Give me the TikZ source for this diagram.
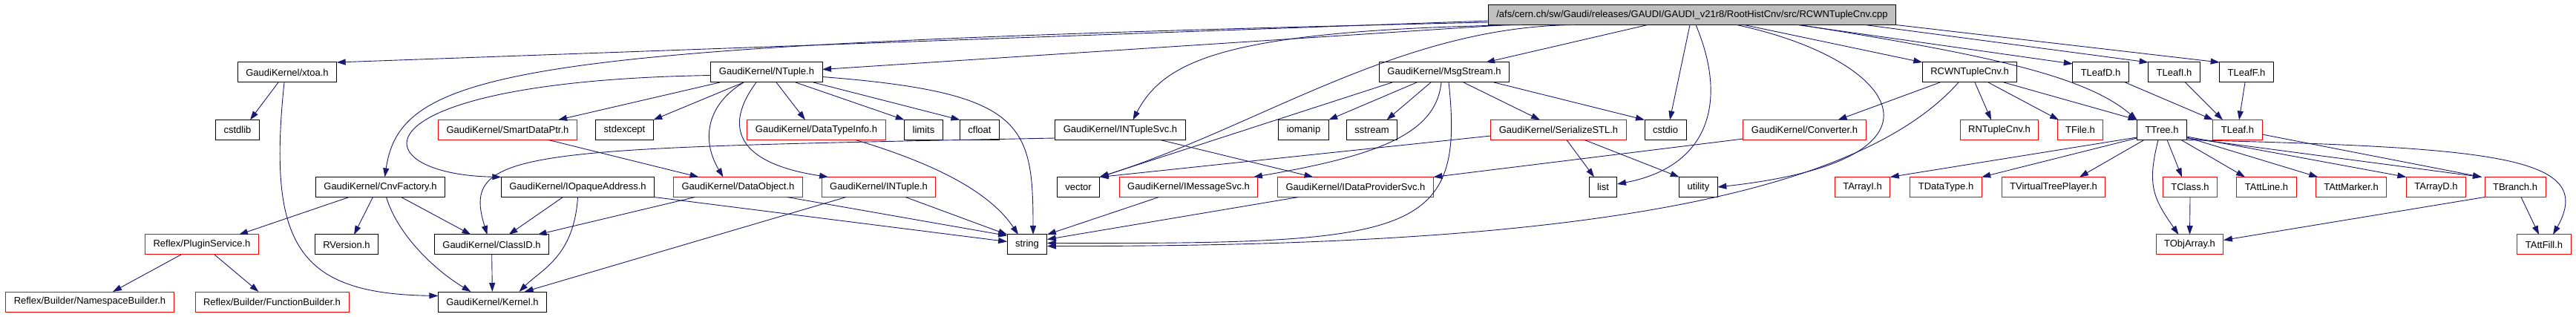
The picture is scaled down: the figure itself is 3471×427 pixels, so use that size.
\documentclass[tikz,border=0pt]{standalone}
\usepackage{fontspec}
\setmainfont{Liberation Sans}
\usetikzlibrary{arrows.meta}
\definecolor{depblue}{HTML}{191970}
\definecolor{rootgray}{HTML}{BFBFBF}
\tikzset{
    hfile/.style={draw=black, line width=1pt, inner xsep=11pt, inner ysep=0pt,
        minimum height=27pt, outer sep=0pt, font=\fontsize{13}{15}\selectfont},
    missing/.style={hfile, draw=red},
    topfile/.style={hfile, fill=rootgray},
    dep/.style={draw=depblue, line width=0.9pt, -{Triangle[length=12pt,width=8pt]}},
}

\begin{document}
\begin{tikzpicture}[x=1pt, y=-1pt]
    \useasboundingbox (0,0) rectangle (3471,427);

    \node[topfile] (root) at (2280,20) {/afs/cern.ch/sw/Gaudi/releases/GAUDI/GAUDI\_v21r8/RootHistCnv/src/RCWNTupleCnv.cpp};

    \node[hfile] (xtoa) at (387,97.5) {GaudiKernel/xtoa.h};
    \node[hfile] (ntuple) at (1033,97.5) {GaudiKernel/NTuple.h};
    \node[hfile] (msgstream) at (1946,97.5) {GaudiKernel/MsgStream.h};
    \node[hfile] (rcwn) at (2654,97.5) {RCWNTupleCnv.h};
    \node[hfile] (tleafd) at (2830.5,97.5) {TLeafD.h};
    \node[hfile] (tleafi) at (2929.5,97.5) {TLeafI.h};
    \node[hfile] (tleaff) at (3027,97.5) {TLeafF.h};

    \node[hfile] (cstdlib) at (320,175) {cstdlib};
    \node[missing] (smartptr) at (684,175) {GaudiKernel/SmartDataPtr.h};
    \node[hfile] (stdexcept) at (841.5,175) {stdexcept};
    \node[missing] (dtinfo) at (1100,175) {GaudiKernel/DataTypeInfo.h};
    \node[hfile] (limits) at (1244.5,175) {limits};
    \node[hfile] (cfloat) at (1320,175) {cfloat};
    \node[hfile] (intupsvc) at (1509.5,175) {GaudiKernel/INTupleSvc.h};
    \node[hfile] (iomanip) at (1756.5,175) {iomanip};
    \node[hfile] (sstream) at (1848.5,175) {sstream};
    \node[missing] (serial) at (2100,175) {GaudiKernel/SerializeSTL.h};
    \node[hfile] (cstdio) at (2244,175) {cstdio};
    \node[missing] (converter) at (2431.5,175) {GaudiKernel/Converter.h};
    \node[missing] (rntuple) at (2694,175) {RNTupleCnv.h};
    \node[missing] (tfile) at (2803,175) {TFile.h};
    \node[hfile] (ttree) at (2913,175) {TTree.h};
    \node[missing] (tleaf) at (3015,175) {TLeaf.h};

    \node[hfile] (cnvfactory) at (512.5,252) {GaudiKernel/CnvFactory.h};
    \node[hfile] (iopaque) at (778.5,252) {GaudiKernel/IOpaqueAddress.h};
    \node[missing] (dataobj) at (994.5,252) {GaudiKernel/DataObject.h};
    \node[missing] (intuple) at (1184,252) {GaudiKernel/INTuple.h};
    \node[hfile] (vector) at (1453,252) {vector};
    \node[missing] (imsgsvc) at (1601.5,252) {GaudiKernel/IMessageSvc.h};
    \node[missing] (idpsvc) at (1826.5,252) {GaudiKernel/IDataProviderSvc.h};
    \node[hfile] (list) at (2160,252) {list};
    \node[hfile] (utility) at (2288.5,252) {utility};
    \node[missing] (tarrayi) at (2509.5,252) {TArrayI.h};
    \node[missing] (tdatatype) at (2622,252) {TDataType.h};
    \node[missing] (tvtp) at (2767,252) {TVirtualTreePlayer.h};
    \node[missing] (tclass) at (2951,252) {TClass.h};
    \node[missing] (tattline) at (3054,252) {TAttLine.h};
    \node[missing] (tattmarker) at (3168,252) {TAttMarker.h};
    \node[missing] (tarrayd) at (3282.5,252) {TArrayD.h};
    \node[missing] (tbranch) at (3389,252) {TBranch.h};

    \node[missing] (plugin) at (272,329.5) {Reflex/PluginService.h};
    \node[hfile] (rversion) at (467,329.5) {RVersion.h};
    \node[hfile] (classid) at (662.5,329.5) {GaudiKernel/ClassID.h};
    \node[hfile] (string) at (1384,329.5) {string};
    \node[missing] (tobjarray) at (2950.5,329.5) {TObjArray.h};
    \node[missing] (tattfill) at (3428,329.5) {TAttFill.h};

    \node[missing] (nsbuilder) at (121,406.5) {Reflex/Builder/NamespaceBuilder.h};
    \node[missing] (fnbuilder) at (366.5,406.5) {Reflex/Builder/FunctionBuilder.h};
    \node[hfile] (kernel) at (663.5,406.5) {GaudiKernel/Kernel.h};

    % includes of the .cpp file
    \draw[dep] ([yshift=-8pt]root.west) -- (xtoa.north east);
    \draw[dep] ([yshift=-10pt]root.west) .. controls +(-1299,30) and +(22,-149) .. ([xshift=6pt]cnvfactory.north);
    \draw[dep] ([xshift=25pt]root.south west) -- ([yshift=4pt]ntuple.east);
    \draw[dep] ([xshift=45pt]root.south west) .. controls +(-394,7) and +(43,-82) .. ([xshift=17pt]intupsvc.north);
    \draw[dep] ([xshift=117pt]root.south west) .. controls +(-236,2) and +(217,-69) .. (vector.north east);
    \draw[dep] ([xshift=-60pt]root.south) -- ([xshift=56pt]msgstream.north);
    \draw[dep] ([xshift=-3pt]root.south) -- ([xshift=6pt]cstdio.north);
    \draw[dep] ([xshift=5pt]root.south) .. controls +(45,107) and +(121,-23) .. ([yshift=4pt]list.east);
    \draw[dep] ([xshift=60pt]root.south) .. controls +(220,47) and +(336,-37) .. (utility.east);
    \draw[dep] ([xshift=70pt]root.south) -- (rcwn.north west);
    \draw[dep] ([xshift=142pt]root.south) -- ([yshift=-2pt]tleafd.north west);
    \draw[dep] ([xshift=145pt]root.south) .. controls +(250,40) and +(-70,-60) .. (ttree.north west);
    \draw[dep] ([xshift=233pt]root.south) -- (tleafi.north west);
    \draw[dep] (root.south east) -- (tleaff.north west);

    \draw[dep] ([yshift=-4pt]ntuple.west) .. controls +(-487,8) and +(-194,-4) .. (iopaque.north west);
    \draw[dep] ([xshift=-63pt]ntuple.south) -- ([xshift=68pt]smartptr.north);
    \draw[dep] ([xshift=-31pt]ntuple.south) -- (stdexcept.north east);
    \draw[dep] ([xshift=-31pt]ntuple.south) .. controls +(-50,30) and +(-30,-50) .. ([xshift=-20pt]dataobj.north);
    \draw[dep] ([xshift=-14pt]ntuple.south) .. controls +(-44,59) and +(-125,-19) .. ([xshift=9pt]intuple.north west);
    \draw[dep] ([xshift=13pt]ntuple.south) -- ([xshift=-15pt]dtinfo.north);
    \draw[dep] ([xshift=39pt]ntuple.south) -- (limits.north west);
    \draw[dep] ([xshift=63pt]ntuple.south) -- (cfloat.north west);
    \draw[dep] ([yshift=-6pt]ntuple.east) .. controls +(271,21) and +(0,-150) .. ([xshift=8pt]string.north);

    \draw[dep] ([xshift=-70pt]msgstream.south) -- (vector.north east);
    \draw[dep] ([xshift=-37pt]msgstream.south) -- (iomanip.north east);
    \draw[dep] ([xshift=-18pt]msgstream.south) -- ([xshift=20pt]sstream.north);
    \draw[dep] ([xshift=-4pt]msgstream.south) .. controls +(-7,69) and +(169,-29) .. ([xshift=-6pt]imsgsvc.north east);
    \draw[dep] ([xshift=6pt]msgstream.south) .. controls +(23,209) and +(489,1) .. ([yshift=2pt]string.east);
    \draw[dep] ([xshift=26pt]msgstream.south) -- ([xshift=-25pt]serial.north);
    \draw[dep] ([xshift=67pt]msgstream.south) -- (cstdio.north west);

    \draw[dep] ([yshift=-11pt]intupsvc.west) .. controls +(-721,14) and +(-36,-116) .. ([xshift=-6pt]classid.north);
    \draw[dep] ([xshift=54pt]intupsvc.south) -- ([xshift=-57pt]idpsvc.north);

    \draw[dep] ([yshift=-8pt]serial.west) -- (vector.north east);
    \draw[dep] ([xshift=11pt]serial.south) -- ([xshift=-12pt]list.north);
    \draw[dep] ([xshift=35pt]serial.south) -- (utility.north west);
    \draw[dep] ([yshift=-12pt]converter.west) -- (idpsvc.north east);

    \draw[dep] ([xshift=-40pt]rcwn.south) -- ([xshift=45pt]converter.north);
    \draw[dep] ([xshift=-15pt]rcwn.south) .. controls +(-159,179) and +(589,1) .. ([yshift=-2pt]string.east);
    \draw[dep] ([xshift=7pt]rcwn.south) -- ([xshift=-11pt]rntuple.north);
    \draw[dep] ([xshift=25pt]rcwn.south) -- ([xshift=-29pt]tfile.north);
    \draw[dep] ([xshift=46pt]rcwn.south) -- (ttree.north west);

    \draw[dep] ([xshift=33pt]tleafd.south) -- (tleaf.north west);
    \draw[dep] ([xshift=15pt]tleafi.south) -- ([xshift=-20pt]tleaf.north);
    \draw[dep] ([xshift=-2pt]tleaff.south) -- ([xshift=2pt]tleaf.north);

    % ROOT headers
    \draw[dep] ([yshift=-10pt]ttree.west) -- (tarrayi.north east);
    \draw[dep] ([yshift=-11pt]ttree.west) -- (tdatatype.north east);
    \draw[dep] ([xshift=-24pt]ttree.south) -- ([xshift=35pt]tvtp.north);
    \draw[dep] ([xshift=-5pt]ttree.south) .. controls +(-15,60) and +(-35,-50) .. ([xshift=-15pt]tobjarray.north);
    \draw[dep] ([xshift=7pt]ttree.south) -- ([xshift=-11pt]tclass.north);
    \draw[dep] ([xshift=26pt]ttree.south) -- ([xshift=-29pt]tattline.north);
    \draw[dep] ([yshift=-10pt]ttree.east) -- ([xshift=3pt]tattmarker.north west);
    \draw[dep] ([yshift=-9pt]ttree.east) -- (tarrayd.north west);
    \draw[dep] ([yshift=-11pt]ttree.east) -- ([xshift=-4pt]tbranch.north west);
    \draw[dep] (ttree.south east) .. controls +(413,10) and +(60,-106) .. ([xshift=12pt]tattfill.north);
    \draw[dep] ([yshift=-6pt]tleaf.east) -- ([xshift=-4pt]tbranch.north west);
    \draw[dep] (tclass.south) -- (tobjarray.north);
    \draw[dep] (tbranch.south west) -- ([yshift=6pt]tobjarray.east);
    \draw[dep] ([xshift=8pt]tbranch.south) -- ([xshift=-7pt]tattfill.north);

    % Gaudi headers
    \draw[dep] ([xshift=-12pt]xtoa.south) -- ([xshift=17pt]cstdlib.north);
    \draw[dep] ([xshift=-4pt]xtoa.south) .. controls +(-23,219) and +(-189,-3) .. ([yshift=8pt]kernel.west);
    \draw[dep] ([xshift=-42pt]cnvfactory.south) -- ([xshift=50pt]plugin.north);
    \draw[dep] ([xshift=-10pt]cnvfactory.south) -- ([xshift=10pt]rversion.north);
    \draw[dep] ([xshift=8pt]cnvfactory.south) .. controls +(15,50) and +(-50,-30) .. ([xshift=-29pt]kernel.north);
    \draw[dep] ([xshift=28pt]cnvfactory.south) -- ([xshift=-28pt]classid.north);
    \draw[dep] ([xshift=-28pt]plugin.south) -- ([xshift=31pt]nsbuilder.north);
    \draw[dep] ([xshift=17pt]plugin.south) -- ([xshift=-18pt]fnbuilder.north);
    \draw[dep] ([xshift=-20pt]iopaque.south) -- ([xshift=23pt]classid.north);
    \draw[dep] (iopaque.south) .. controls +(-5,80) and +(30,-30) .. ([xshift=36pt]kernel.north);
    \draw[dep] (iopaque.south east) -- ([yshift=4pt]string.west);
    \draw[dep] ([xshift=-58pt]dataobj.south) -- ([xshift=62pt]classid.north);
    \draw[dep] ([xshift=66pt]dataobj.south) -- ([yshift=12pt]string.west);
    \draw[dep] (classid) -- (kernel);
    \draw[dep] ([xshift=55pt]smartptr.south) -- ([xshift=-53pt]dataobj.north);
    \draw[dep] ([xshift=53pt]dtinfo.south) .. controls +(100,30) and +(-40,-60) .. ([xshift=-12pt]string.north);
    \draw[dep] ([xshift=-44pt]intuple.south) -- ([xshift=-30pt]kernel.north east);
    \draw[dep] ([xshift=36pt]intuple.south) -- (string.north west);
    \draw[dep] ([xshift=-40pt]imsgsvc.south) -- (string.north east);
    \draw[dep] ([xshift=-77pt]idpsvc.south) -- ([yshift=7pt]string.east);
\end{tikzpicture}
\end{document}
